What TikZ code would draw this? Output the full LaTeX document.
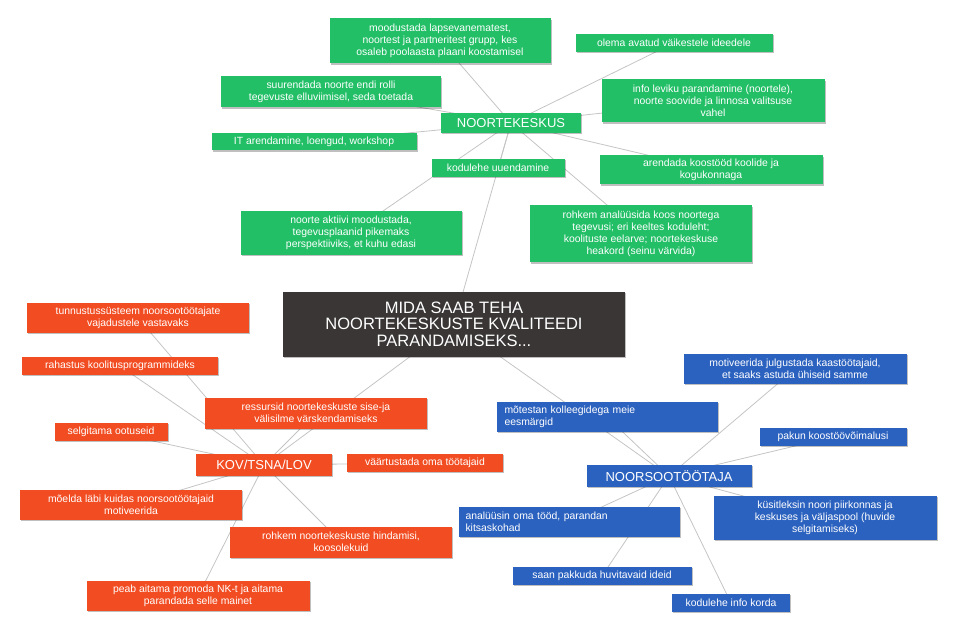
\documentclass[tikz,border=0pt]{standalone}
\usepackage{fontspec}
\setmainfont{Liberation Sans}
\usetikzlibrary{shadows,backgrounds}
\definecolor{gr}{HTML}{22BF66}
\definecolor{og}{HTML}{F24D22}
\definecolor{bl}{HTML}{2C62BF}
\definecolor{dk}{HTML}{3A3636}
\definecolor{ln}{HTML}{C4C4C4}
\tikzset{
 box/.style={fill=#1,text=white,inner sep=0pt,align=center,font=\fontsize{10.4}{11.8}\selectfont,
   drop shadow={shadow xshift=1.2pt,shadow yshift=-1.2pt,fill=black,opacity=0.25}},
 hub/.style={box=#1,font=\fontsize{13}{14}\selectfont},
 wh/.style 2 args={minimum width=#1,minimum height=#2},
 link/.style={draw=ln,line width=0.8pt}
}
\begin{document}
\begin{tikzpicture}[x=1pt,y=-1pt]
\useasboundingbox (0,0) rectangle (956,631);
% green
\node[box=gr,wh={221pt}{45pt}] (g1) at (440,41) {moodustada lapsevanematest,\\noortest ja partneritest grupp, kes\\osaleb poolaasta plaani koostamisel};
\node[box=gr,wh={197pt}{18pt}] (g2) at (674,43) {olema avatud väikestele ideedele};
\node[box=gr,wh={220pt}{31pt}] (g3) at (331,92) {suurendada noorte endi rolli\\tegevuste elluviimisel, seda toetada};
\node[box=gr,wh={223pt}{43pt}] (g4) at (713,101) {info leviku parandamine (noortele),\\noorte soovide ja linnosa valitsuse\\vahel};
\node[hub=gr,wh={140pt}{20pt}] (nk) at (511,123) {NOORTEKESKUS};
\node[box=gr,wh={205pt}{17pt}] (g5) at (314,142) {IT arendamine, loengud, workshop};
\node[box=gr,wh={133pt}{18pt}] (g6) at (498,168) {kodulehe uuendamine};
\node[box=gr,wh={223pt}{29pt}] (g7) at (711,170) {arendada koostööd koolide ja\\kogukonnaga};
\node[box=gr,wh={221pt}{44pt}] (g8) at (351,233) {noorte aktiivi moodustada,\\tegevusplaanid pikemaks\\perspektiiviks, et kuhu edasi};
\node[box=gr,wh={222pt}{57pt}] (g9) at (641,234) {rohkem analüüsida koos noortega\\tegevusi; eri keeltes koduleht;\\koolituste eelarve; noortekeskuse\\heakord (seinu värvida)};
% central
\node[box=dk,wh={342pt}{65pt},font=\fontsize{16.5}{16.5}\selectfont] (c) at (454,324) {MIDA SAAB TEHA\\NOORTEKESKUSTE KVALITEEDI\\PARANDAMISEKS...};
% orange
\node[box=og,wh={222pt}{30pt}] (o1) at (138,318) {tunnustussüsteem noorsootöötajate\\vajadustele vastavaks};
\node[box=og,wh={196pt}{18pt}] (o2) at (120,366) {rahastus koolitusprogrammideks};
\node[box=og,wh={222pt}{31pt}] (o3) at (316,413) {ressursid noortekeskuste sise-ja\\välisilme värskendamiseks};
\node[box=og,wh={113pt}{18pt}] (o4) at (111,432) {selgitama ootuseid};
\node[hub=og,wh={136pt}{22pt}] (kov) at (264,465) {KOV/TSNA/LOV};
\node[box=og,wh={156pt}{18pt}] (o5) at (425,463) {väärtustada oma töötajaid};
\node[box=og,wh={222pt}{30pt}] (o6) at (131,505) {mõelda läbi kuidas noorsootöötajaid\\motiveerida};
\node[box=og,wh={222pt}{31pt}] (o7) at (341,542) {rohkem noortekeskuste hindamisi,\\koosolekuid};
\node[box=og,wh={223pt}{30pt}] (o8) at (198,596) {peab aitama promoda NK-t ja aitama\\parandada selle mainet};
% blue
\node[box=bl,wh={223pt}{30pt}] (b1) at (795,369) {motiveerida julgustada kaastöötajaid,\\et saaks astuda ühiseid samme};
\node[box=bl,wh={221pt}{30pt},align=left,text width=205pt] (b2) at (607,417) {mõtestan kolleegidega meie\\eesmärgid};
\node[box=bl,wh={147pt}{18pt}] (b3) at (833,437) {pakun koostöövõimalusi};
\node[hub=bl,wh={165pt}{22pt}] (nt) at (669,476) {NOORSOOTÖÖTAJA};
\node[box=bl,wh={223pt}{44pt}] (b4) at (825,518) {küsitleksin noori piirkonnas ja\\keskuses ja väljaspool (huvide\\selgitamiseks)};
\node[box=bl,wh={221pt}{30pt},align=left,text width=207pt] (b5) at (569,522) {analüüsin oma tööd, parandan\\kitsaskohad};
\node[box=bl,wh={179pt}{18pt}] (b6) at (602,576) {saan pakkuda huvitavaid ideid};
\node[box=bl,wh={118pt}{18pt}] (b7) at (731,603) {kodulehe info korda};
\begin{pgfonlayer}{background}
\foreach \n in {g1,g2,g3,g4,g5,g6,g7,g8,g9,c} \draw[link] (nk.center) -- (\n.center);
\foreach \n in {o1,o2,o3,o4,o5,o6,o7,o8,c} \draw[link] (kov.center) -- (\n.center);
\foreach \n in {b1,b2,b3,b4,b5,b6,b7,c} \draw[link] (nt.center) -- (\n.center);
\end{pgfonlayer}
\end{tikzpicture}
\end{document}
